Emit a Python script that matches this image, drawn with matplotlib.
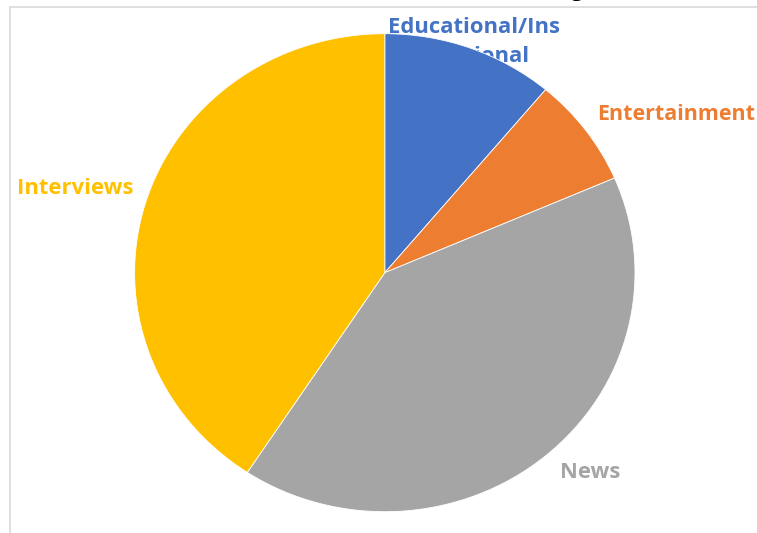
import matplotlib
matplotlib.use("Agg")
import matplotlib.pyplot as plt
from matplotlib.patches import Rectangle

categories = ["Educational/Instructional", "Entertainment", "News", "Interviews"]
values = [3, 2, 11, 11]
colors = ["#4472C4", "#ED7D31", "#A5A5A5", "#FFC000"]
label_texts = ["Educational/Ins\ntructional", "Entertainment", "News", "Interviews"]

W, H = 757, 533
fig = plt.figure(figsize=(W / 100, H / 100), dpi=100)
fig.patch.set_facecolor("white")

# pie bounding box in pixels
cx, cy, rx, ry = 384.8, 272.7, 250.2, 239.0
ax = fig.add_axes([(cx - rx) / W, (H - cy - ry) / H, 2 * rx / W, 2 * ry / H])
ax.pie(values, colors=colors, startangle=90, counterclock=False,
       wedgeprops=dict(linewidth=0.6, edgecolor="white"))
ax.set_aspect("auto")
ax.set_xlim(-1, 1)
ax.set_ylim(-1, 1)
ax.axis("off")

def px2d(px, py):
    return (px - cx) / rx, (cy - py) / ry

font = "Open Sans"
fs = 15.8
# label positions (pixel centres)
pos = [(474, 42, "center"), (597, 115, "left"), (590, 473, "center"), (17, 189, "left")]
sizes = [fs, 15.5, fs, fs]
for (px, py, ha), txt, col, s in zip(pos, label_texts, colors, sizes):
    x, y = px2d(px, py)
    ax.text(x, y, txt, color=col, fontsize=s, fontweight="bold", family=font,
            ha=ha, va="center", linespacing=1.45, clip_on=False, zorder=0)

# chart border (light gray) extending beyond the crop
fig.patches.append(Rectangle((9.5 / W, -0.1), 1.2, (H - 7.5) / H + 0.1,
                             transform=fig.transFigure, fill=False,
                             edgecolor="#D9D9D9", linewidth=1.2, zorder=-1))

# remnant of the title above the crop
fig.text(577 / W, 1 + 4 / H, "g", color="black", fontsize=16, family=font,
         ha="center", va="baseline")

fig.savefig("out.png", dpi=100, facecolor="white")
